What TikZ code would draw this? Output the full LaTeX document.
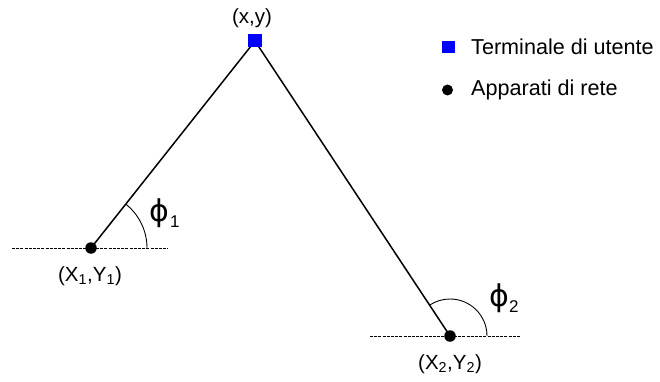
\documentclass[tikz,border=0pt]{standalone}
\usepackage{fontspec}
\setmainfont{Liberation Sans}
\newfontfamily\phifont{DejaVu Sans}
\begin{document}
\begin{tikzpicture}[x=1pt,y=-1pt,
  lbl/.style={font=\fontsize{20.5}{24}\selectfont, inner sep=0pt},
  leglbl/.style={font=\fontsize{21.6}{26}\selectfont, inner sep=0pt, anchor=base west},
  philbl/.style={font=\phifont\fontsize{30}{34}\selectfont, inner sep=0pt},
  phisub/.style={font=\fontsize{17}{19}\selectfont, inner sep=0pt, anchor=base west},
  netdev/.style={circle, fill=black, minimum size=11.5pt, inner sep=0pt},
  userterm/.style={rectangle, fill=blue, minimum width=14pt, minimum height=13pt, inner sep=0pt},
  link/.style={line width=1.5pt},
  horiz/.style={line width=0.8pt, dash pattern=on 3pt off 1.2pt},
  anglearc/.style={line width=0.9pt}]
\useasboundingbox (0,0) rectangle (660,382);
\coordinate (h1l) at (12,248);
\coordinate (h1r) at (168,248);
\coordinate (h2l) at (370,336);
\coordinate (h2r) at (520,336);
\draw[horiz] (h1l) -- (h1r);
\draw[horiz] (h2l) -- (h2r);
\draw[anglearc] (147,248) arc[start angle=0, end angle=-51.6, radius=56];
\draw[anglearc] (487,336) arc[start angle=0, end angle=-123.5, radius=37];
\node[userterm] (u) at (255,41) {};
\node[netdev] (a1) at (91,248) {};
\node[netdev] (a2) at (450,336) {};
\draw[link] (a1.center) -- (u.center);
\draw[link] (u.center) -- (a2.center);
\node[userterm] at (255,41) {};
\node[lbl] (ulbl) at (252,18) {(x,y)};
\node[lbl] (a1lbl) at (90,276) {(X\textsubscript{1},Y\textsubscript{1})};
\node[lbl] (a2lbl) at (450,364) {(X\textsubscript{2},Y\textsubscript{2})};
\node[philbl] (phi1) at (159.5,213) {\symbol{"03D5}};
\node[phisub] (phi1s) at (170,227) {1};
\node[philbl] (phi2) at (499.5,298) {\symbol{"03D5}};
\node[phisub] (phi2s) at (509,312) {2};
\node[rectangle, fill=blue, minimum width=13pt, minimum height=12pt, inner sep=0pt] (legu) at (448.5,47) {};
\node[leglbl] (legut) at (471,55) {Terminale di utente};
\node[circle, fill=black, minimum size=11pt, inner sep=0pt] (lega) at (447.5,90) {};
\node[leglbl] (legat) at (471,96) {Apparati di rete};
\end{tikzpicture}
\end{document}
